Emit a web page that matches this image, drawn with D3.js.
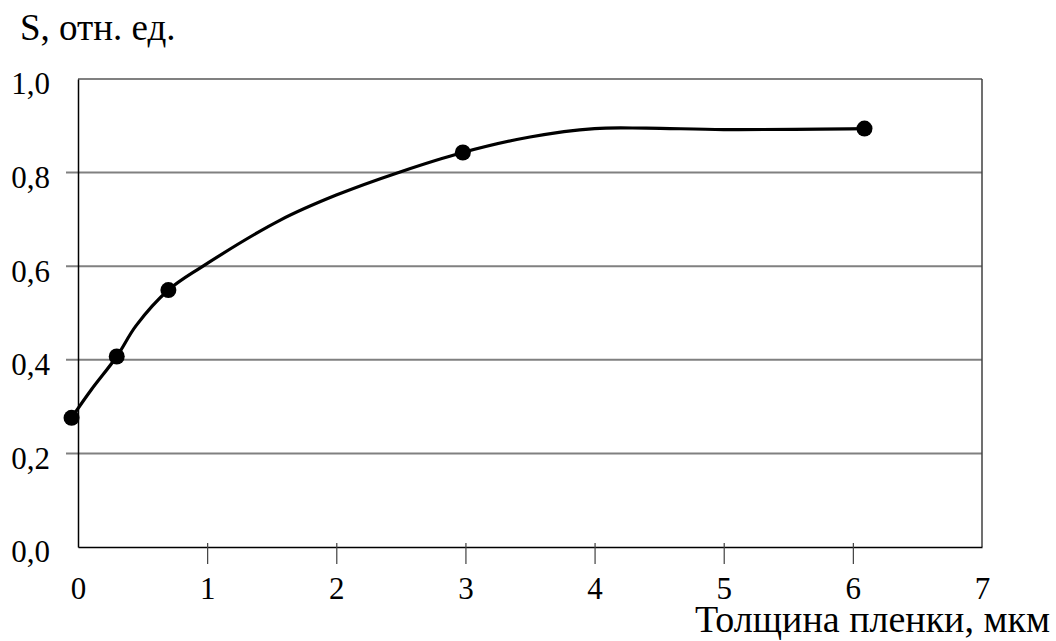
<!DOCTYPE html>
<html>
<head>
<meta charset="utf-8">
<script src="https://cdn.jsdelivr.net/npm/d3@7"></script>
<style>
  body { margin: 0; background: #fff; }
</style>
</head>
<body>
<div id="chart"></div>
<script>
// measured points
const pointX = [-0.05, 0.3, 0.7, 2.98, 6.09];
const pointY = [0.276, 0.407, 0.549, 0.843, 0.894];

// fitted curve
const curveX = [-0.05, 0.1, 0.3, 0.45, 0.7, 0.95, 1.57, 2.0, 2.5, 2.98, 3.5, 4.0, 4.4, 5.0, 6.09];
const curveY = [0.276, 0.335, 0.407, 0.473, 0.549, 0.597, 0.699, 0.752, 0.802, 0.843, 0.876, 0.894, 0.895, 0.892, 0.894];

const xTicks = [0, 1, 2, 3, 4, 5, 6, 7];
const yTicks = [0, 0.2, 0.4, 0.6, 0.8, 1.0];

const yTitle = "S, отн. ед.";
const xTitle = "Толщина пленки, мкм";

const serif = '"Liberation Serif"';

var width = 1056, height = 641;
var margin = { top: 79, right: 74, bottom: 94, left: 78 };

var locale = d3.formatLocale({ decimal: ",", thousands: " ", grouping: [3], currency: ["", ""] });
var fmt = locale.format(".1f");

var x = d3.scaleLinear().domain([0, 7]).range([margin.left, width - margin.right]);
var y = d3.scaleLinear().domain([0, 1]).range([height - margin.bottom, margin.top]);

var svg = d3.select("#chart").append("svg")
    .attr("width", width)
    .attr("height", height);

// gridlines (0.2 .. 1.0), short stub left of the axis for inner ones
svg.append("g")
  .selectAll("line")
  .data(yTicks.filter(d => d > 0))
  .join("line")
    .attr("x1", d => d < 1 ? margin.left - 12 : margin.left)
    .attr("x2", x(7))
    .attr("y1", d => y(d))
    .attr("y2", d => y(d))
    .attr("stroke", "#808080")
    .attr("stroke-width", 2);

// right frame
svg.append("line")
    .attr("x1", x(7)).attr("x2", x(7))
    .attr("y1", y(1)).attr("y2", y(0))
    .attr("stroke", "#404040")
    .attr("stroke-width", 1.5);

// x axis
var xAxis = d3.axisBottom(x)
    .tickValues(xTicks)
    .tickSize(0)
    .tickPadding(30)
    .tickFormat(d3.format("d"));

var xAxisG = svg.append("g")
    .attr("transform", `translate(0, ${y(0)})`)
    .call(xAxis);
xAxisG.attr("font-family", null).attr("font-size", null);
xAxisG.select(".domain").attr("stroke", "#000").attr("stroke-width", 1.5);
xAxisG.selectAll(".tick text")
    .attr("fill", "#000")
    .style("font-size", "31px")
    .style("font-family", serif);
xAxisG.selectAll(".tick")
    .filter(d => d > 0 && d < 7)
    .append("line")
    .attr("y1", -4).attr("y2", 17)
    .attr("stroke", "#404040")
    .attr("stroke-width", 1.2);

// y axis
var yAxis = d3.axisLeft(y)
    .tickValues(yTicks)
    .tickSize(0)
    .tickPadding(28)
    .tickFormat(fmt);

var yAxisG = svg.append("g")
    .attr("transform", `translate(${margin.left}, 0)`)
    .call(yAxis);
yAxisG.attr("font-family", null).attr("font-size", null);
yAxisG.select(".domain").attr("stroke", "#000").attr("stroke-width", 1.5);
yAxisG.selectAll(".tick text")
    .attr("fill", "#000")
    .attr("dy", "0.48em")
    .style("font-size", "31px")
    .style("font-family", serif);

// curve
var line = d3.line()
    .x(d => x(d[0]))
    .y(d => y(d[1]))
    .curve(d3.curveCatmullRom.alpha(0.5));

svg.append("path")
    .datum(curveX.map((v, i) => [v, curveY[i]]))
    .attr("d", line)
    .attr("fill", "none")
    .attr("stroke", "#000")
    .attr("stroke-width", 3.2);

svg.append("g")
  .selectAll("circle")
  .data(pointX.map((v, i) => [v, pointY[i]]))
  .join("circle")
    .attr("cx", d => x(d[0]))
    .attr("cy", d => y(d[1]))
    .attr("r", 8)
    .attr("fill", "#000");

// titles
svg.append("text")
    .attr("x", 20)
    .attr("y", 40)
    .style("font-size", "37px")
    .style("font-family", serif)
    .text(yTitle);

svg.append("text")
    .attr("x", 1050)
    .attr("y", 632)
    .attr("text-anchor", "end")
    .style("font-size", "38px")
    .style("font-family", serif)
    .text(xTitle);
</script>
</body>
</html>
